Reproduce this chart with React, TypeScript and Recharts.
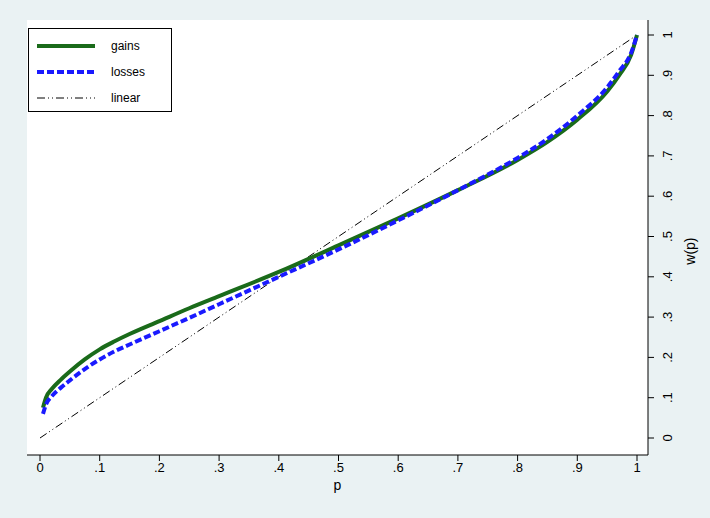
import React from 'react';
import { ComposedChart, Line, XAxis, YAxis } from 'recharts';

const pValues = [0, 0.005, 0.01, 0.02, 0.035, 0.05, 0.075, 0.1, 0.125, 0.15, 0.2, 0.25, 0.3, 0.4, 0.5, 0.6, 0.7, 0.8, 0.85, 0.9, 0.95, 0.97, 0.99, 1];
const gains = [null, 0.075, 0.1, 0.122, 0.145, 0.165, 0.195, 0.22, 0.24, 0.258, 0.29, 0.322, 0.352, 0.412, 0.478, 0.545, 0.615, 0.69, 0.735, 0.79, 0.86, 0.9, 0.95, 1];
const losses = [null, 0.06, 0.083, 0.104, 0.125, 0.143, 0.171, 0.195, 0.215, 0.232, 0.265, 0.298, 0.332, 0.4, 0.468, 0.54, 0.615, 0.695, 0.742, 0.8, 0.87, 0.91, 0.955, 1];
const linear = pValues.map((p) => (p === 0 || p === 1 ? p : null));
const ticks = [0, 0.1, 0.2, 0.3, 0.4, 0.5, 0.6, 0.7, 0.8, 0.9, 1];
const fmt = (v: number) => (v === 0 ? '0' : v === 1 ? '1' : '.' + Math.round(v * 10));

const data = pValues.map((p, i) => ({ p, gains: gains[i], losses: losses[i], linear: linear[i] }));

const YTick = (props: any) => {
  const { x, y, payload } = props;
  return (
    <g transform={`translate(${x + 12},${y})`}>
      <text transform="rotate(-90)" textAnchor="middle" dy={4} fontSize={13} fill="#000" fontFamily="Liberation Sans, Arial">
        {fmt(payload.value)}
      </text>
    </g>
  );
};

export default function App() {
  return (
    <div style={{ position: 'absolute', left: 0, top: 0, width: 710, height: 518, background: '#eaf2f3', fontFamily: 'Liberation Sans, Arial' }}>
      <ComposedChart width={710} height={518} data={data} margin={{ top: 20, left: 27, right: 12, bottom: 23 }}>
        <rect x={27} y={20} width={621} height={435} fill="#fff" />
        <XAxis dataKey="p" type="number" domain={[0, 1]} ticks={ticks} tickFormatter={fmt} padding={{ left: 13, right: 11 }}
          height={40} stroke="#000" tick={{ fill: '#000', fontSize: 13 }} tickSize={6}
          label={{ value: 'p', position: 'insideBottom', offset: 5, fill: '#000', fontSize: 14 }} />
        <YAxis yAxisId="r" orientation="right" type="number" domain={[0, 1]} ticks={ticks} width={50} padding={{ top: 15, bottom: 17 }}
          stroke="#000" tick={<YTick />} tickSize={6}
          label={{ value: 'w(p)', angle: -90, position: 'insideRight', offset: 8, fill: '#000', fontSize: 14 }} />
        <Line yAxisId="r" dataKey="linear" stroke="#000" strokeWidth={1} strokeDasharray="8 3 1 3 1 3" dot={false} connectNulls isAnimationActive={false} />
        <Line yAxisId="r" type="monotone" dataKey="gains" stroke="#1a6b1a" strokeWidth={4} dot={false} connectNulls isAnimationActive={false} />
        <Line yAxisId="r" type="monotone" dataKey="losses" stroke="#1a1aff" strokeWidth={4} strokeDasharray="7 3" dot={false} connectNulls isAnimationActive={false} />
      </ComposedChart>
      <div style={{ position: 'absolute', left: 28, top: 28, width: 142, height: 82, border: '1px solid #000', background: '#fff', fontSize: 12 }}>
        {[
          ['gains', <line x1={2} y1={6} x2={60} y2={6} stroke="#1a6b1a" strokeWidth={4} />],
          ['losses', <line x1={2} y1={6} x2={60} y2={6} stroke="#1a1aff" strokeWidth={4} strokeDasharray="7 3" />],
          ['linear', <line x1={2} y1={6} x2={60} y2={6} stroke="#000" strokeWidth={1} strokeDasharray="8 3 1 3 1 3" />],
        ].map(([name, ln]: any, i) => (
          <div key={i} style={{ position: 'absolute', left: 6, top: 10 + i * 26, display: 'flex', alignItems: 'center' }}>
            <svg width={64} height={12}>{ln}</svg>
            <span style={{ marginLeft: 12 }}>{name}</span>
          </div>
        ))}
      </div>
    </div>
  );
}
